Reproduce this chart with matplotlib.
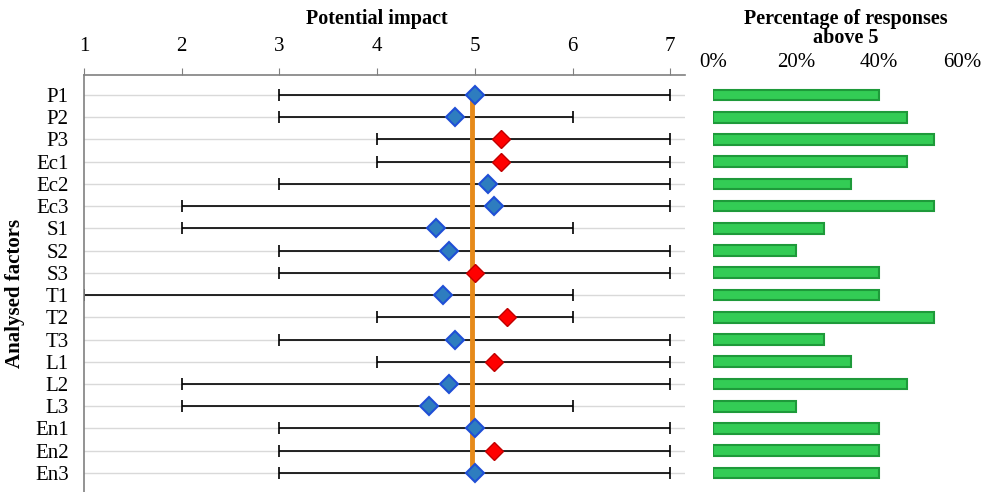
import matplotlib
matplotlib.use("Agg")
import matplotlib.pyplot as plt

plt.rcParams['font.family'] = ['Liberation Serif', 'DejaVu Serif']

factors = ["P1", "P2", "P3", "Ec1", "Ec2", "Ec3", "S1", "S2", "S3",
           "T1", "T2", "T3", "L1", "L2", "L3", "En1", "En2", "En3"]
means = [5.0, 4.80, 5.27, 5.27, 5.13, 5.20, 4.60, 4.73, 5.0,
         4.67, 5.33, 4.80, 5.20, 4.73, 4.53, 5.0, 5.20, 5.0]
mins = [3, 3, 4, 4, 3, 2, 2, 3, 3, 1, 4, 3, 4, 2, 2, 3, 3, 3]
maxs = [7, 6, 7, 7, 7, 7, 6, 7, 7, 6, 6, 7, 7, 7, 6, 7, 7, 7]
highlight = [False, False, True, True, False, False, False, False, True,
             False, True, False, True, False, False, False, True, False]
pct_above5 = [40.0, 46.7, 53.3, 46.7, 33.3, 53.3, 26.7, 20.0, 40.0,
              40.0, 53.3, 26.7, 33.3, 46.7, 20.0, 40.0, 40.0, 40.0]
impact_ticks = [1, 2, 3, 4, 5, 6, 7]
pct_ticks = [0, 20, 40, 60]
threshold = 4.97

fig = plt.figure(figsize=(9.9, 4.92), dpi=100)
W, H = 990, 492
ax = fig.add_axes([84 / W, 0, 601 / W, 1 - 75 / H])
ax2 = fig.add_axes([713 / W, 0, 270 / W, 1 - 75 / H])

ypos = list(range(len(factors)))

# left panel: range + mean
for y in ypos:
    ax.axhline(y, color="#d9d9d9", lw=1, zorder=0)
ax.errorbar(means, ypos, xerr=[[m - lo for m, lo in zip(means, mins)],
                               [hi - m for m, hi in zip(means, maxs)]],
            fmt="none", ecolor="black", elinewidth=1.2, capsize=4, capthick=1.2, zorder=2)
ax.plot([threshold, threshold], [0, len(factors) - 1], color="#e68a1a", lw=3.5, zorder=3)
for y, m, h in zip(ypos, means, highlight):
    if h:
        ax.plot(m, y, "D", ms=9, mfc="#ff0000", mec="#c00000", mew=1, zorder=4)
    else:
        ax.plot(m, y, "D", ms=9, mfc="#2e7dbf", mec="#1f4fd6", mew=1.5, zorder=4)

ax.set_xlim(1, 7.15)
ax.set_ylim(len(factors) - 0.14, -0.9)
ax.xaxis.tick_top()
ax.set_xticks(impact_ticks)
ax.tick_params(axis="x", length=5, pad=9, labelsize=15, color="#808080")
ax.set_yticks(ypos)
ax.set_yticklabels(factors)
ax.tick_params(axis="y", length=0, pad=11, labelsize=15)
for s in ["right", "bottom"]:
    ax.spines[s].set_visible(False)
ax.spines["top"].set_color("#808080")
ax.spines["left"].set_color("#808080")
ax.spines["top"].set_linewidth(1.2)
ax.spines["left"].set_linewidth(1.2)

# right panel: share of responses above 5
ax2.barh(ypos, pct_above5, height=0.48, color="#33cc55", edgecolor="#1e9a3a", lw=1.5)
ax2.set_xlim(0, 65)
ax2.set_ylim(len(factors) - 0.14, -0.9)
ax2.xaxis.tick_top()
ax2.set_xticks(pct_ticks)
ax2.set_xticklabels([f"{t}%" for t in pct_ticks])
ax2.tick_params(axis="x", length=0, pad=2, labelsize=15)
ax2.set_yticks([])
for s in ax2.spines.values():
    s.set_visible(False)

fig.text(377 / W, 1 - 19 / H, "Potential impact", fontsize=14.5, fontweight="bold",
         ha="center", va="center")
fig.text(846 / W, 1 - 19 / H, "Percentage of responses", fontsize=14.5,
         fontweight="bold", ha="center", va="center")
fig.text(846 / W, 1 - 38 / H, "above 5", fontsize=14.5, fontweight="bold",
         ha="center", va="center")
fig.text(15 / W, 1 - 293 / H, "Analysed factors", rotation=90, fontsize=15,
         fontweight="bold", ha="center", va="center")

fig.savefig("out.png", dpi=100)
